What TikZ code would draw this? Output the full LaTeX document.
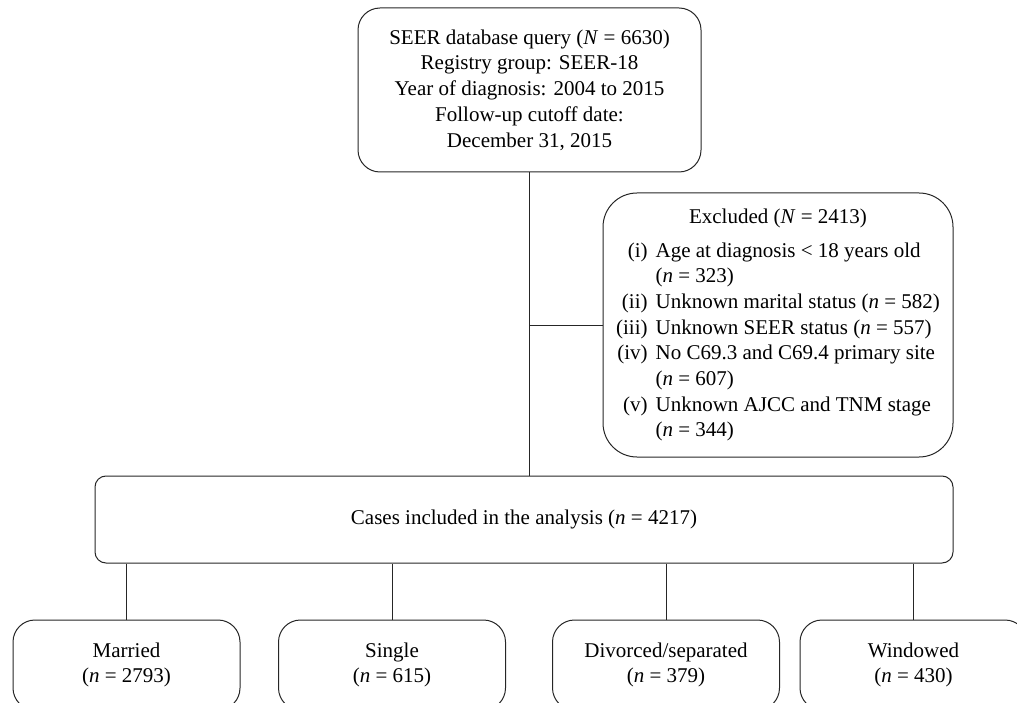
\documentclass[tikz,border=0pt]{standalone}
\usepackage{fontspec}
\setmainfont{Liberation Serif}
\usetikzlibrary{positioning}

\begin{document}
\begin{tikzpicture}[x=1pt,y=-1pt]
    \tikzset{box/.style = {shape=rectangle, draw=black!85, line width=1pt, rounded corners=22pt, align=center, inner sep=0pt,
                           font=\fontsize{21}{25.7}\selectfont}}
    \tikzset{edge/.style = {draw=black!85, line width=1pt, -}}
    \useasboundingbox (0,0) rectangle (1017,703);
    % boxes
    \node[box, minimum width=343pt, minimum height=164pt] (query) at (529.5,90)
        {SEER database query (\textit{N} = 6630)\\Registry group: SEER-18\\Year of diagnosis: 2004 to 2015\\Follow-up cutoff date:\\December 31, 2015};
    \node[box, minimum width=350pt, minimum height=264pt, rounded corners=34pt] (excl) at (778,325)
        {\begin{tabular}{@{}r@{\hspace{8pt}}l@{}}
            \multicolumn{2}{c}{Excluded (\textit{N} = 2413)}\\[8pt]
            (i) & Age at diagnosis < 18 years old\\
                & (\textit{n} = 323)\\
            (ii) & Unknown marital status (\textit{n} = 582)\\
            (iii) & Unknown SEER status (\textit{n} = 557)\\
            (iv) & No C69.3 and C69.4 primary site\\
                 & (\textit{n} = 607)\\
            (v) & Unknown AJCC and TNM stage\\
                & (\textit{n} = 344)
        \end{tabular}};
    \node[box, minimum width=858pt, minimum height=87pt, rounded corners=11pt] (cases) at (524,519.5)
        {Cases included in the analysis (\textit{n} = 4217)};
    \node[box, minimum width=227pt, minimum height=90pt] (married) at (126.5,665) {Married\\(\textit{n} = 2793)};
    \node[box, minimum width=227pt, minimum height=90pt] (single) at (392,665) {Single\\(\textit{n} = 615)};
    \node[box, minimum width=227pt, minimum height=90pt] (divorced) at (666,665) {Divorced/separated\\(\textit{n} = 379)};
    \node[box, minimum width=227pt, minimum height=90pt] (widowed) at (913.5,665) {Windowed\\(\textit{n} = 430)};
    % edges
    \draw[edge] (query.south) -- (query.south |- cases.north);
    \draw[edge] (excl.west) -- (excl.west -| query.south);
    \draw[edge] (cases.south -| married.north) -- (married.north);
    \draw[edge] (cases.south -| single.north) -- (single.north);
    \draw[edge] (cases.south -| divorced.north) -- (divorced.north);
    \draw[edge] (cases.south -| widowed.north) -- (widowed.north);
\end{tikzpicture}
\end{document}
